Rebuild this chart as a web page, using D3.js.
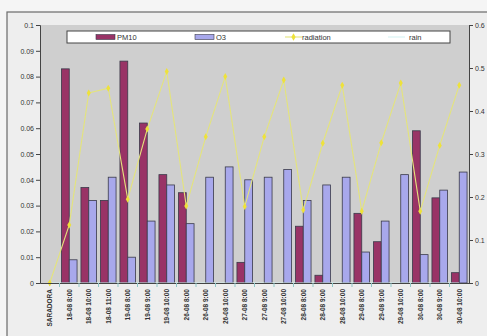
<!DOCTYPE html>
<html><head><meta charset="utf-8">
<script src="https://cdn.jsdelivr.net/npm/d3@7"></script>
<style>body{margin:0;background:#f4f4f4}svg{display:block}</style>
</head><body>
<script>
const categories = ["SARADORA","18-08 8:00","18-08 10:00","18-08 11:00","19-08 8:00","19-08 9:00","19-08 10:00","26-08 8:00","26-08 9:00","26-08 10:00","27-08 8:00","27-08 9:00","27-08 10:00","28-08 8:00","28-08 9:00","28-08 10:00","29-08 8:00","29-08 9:00","29-08 10:00","30-08 8:00","30-08 9:00","30-08 10:00"];
const pm10 = [0,0.083,0.037,0.032,0.086,0.062,0.042,0.035,0,0,0.008,0,0,0.022,0.003,0,0.027,0.016,0,0.059,0.033,0.004];
const o3 = [0,0.009,0.032,0.041,0.010,0.024,0.038,0.023,0.041,0.045,0.040,0.041,0.044,0.032,0.038,0.041,0.012,0.024,0.042,0.011,0.036,0.043];
const radiation = [0,0.135,0.442,0.453,0.195,0.358,0.492,0.179,0.34,0.48,0.178,0.34,0.472,0.17,0.325,0.46,0.167,0.326,0.465,0.167,0.32,0.46];
const rain = [0,0,0,0,0,0,0,0,0,0,0,0,0,0,0,0,0,0,0,0,0,0];
const leftTicks = [0,0.01,0.02,0.03,0.04,0.05,0.06,0.07,0.08,0.09,0.1];
const rightTicks = [0,0.1,0.2,0.3,0.4,0.5,0.6];
const seriesNames = ["PM10","O3","radiation","rain"];
const colors = {PM10:"#993366", O3:"#a8a8ec", radiation:"#e4e47c", rain:"#d6f2f2"};

const W=487,H=336;
const svg=d3.select("body").append("svg").attr("width",W).attr("height",H)
  .style("font-family","'Liberation Sans',Arial,sans-serif");
svg.append("rect").attr("width",W).attr("height",H).attr("fill","#f5f5f5");
svg.append("rect").attr("x",7).attr("y",12).attr("width",W).attr("height",H).attr("fill","#eeeeee").attr("stroke","#6a6a6a").attr("stroke-width",1.2);

const L=40,R=469,T=25,B=283;
svg.append("rect").attr("x",L).attr("y",T).attr("width",R-L).attr("height",B-T).attr("fill","#cfcfcf");

const x=d3.scaleBand().domain(categories).range([L,R]).padding(0);
const bw=x.bandwidth();
const xs=d3.scaleBand().domain(["PM10","O3"]).range([0.1*bw,0.9*bw]).padding(0);
const yL=d3.scaleLinear().domain([0,0.1]).range([B,T]);
const yR=d3.scaleLinear().domain([0,0.6]).range([B,T]);

// bars
const bars=[["PM10",pm10],["O3",o3]];
bars.forEach(([name,vals])=>{
  svg.append("g").selectAll("rect").data(vals).join("rect")
    .attr("x",(d,i)=>x(categories[i])+xs(name))
    .attr("width",xs.bandwidth())
    .attr("y",d=>yL(d))
    .attr("height",d=>B-yL(d))
    .attr("fill",colors[name])
    .attr("stroke",d=>d>0?"#3a3a4a":"none").attr("stroke-width",0.8);
});

// lines
const line=d3.line().x((d,i)=>x(categories[i])+bw/2).y(d=>yR(d));
svg.append("path").datum(rain).attr("d",line).attr("fill","none").attr("stroke",colors.rain).attr("stroke-width",1);
svg.append("path").datum(radiation).attr("d",line).attr("fill","none").attr("stroke",colors.radiation).attr("stroke-width",1.1);
svg.append("g").selectAll("path").data(radiation).join("path")
  .attr("d",d3.symbol().type(d3.symbolDiamond).size(14))
  .attr("transform",(d,i)=>`translate(${x(categories[i])+bw/2},${yR(d)})`)
  .attr("fill","#eee23a");

// left axis
const gl=svg.append("g").attr("transform",`translate(${L},0)`)
  .call(d3.axisLeft(yL).tickValues(leftTicks).tickSize(4).tickPadding(2).tickFormat(d=>d===0?"0":d3.format("")(+d.toFixed(2))));
gl.selectAll("text").attr("font-size",7).attr("fill","#333");
gl.selectAll("line,path").attr("stroke","#444");
// right axis
const gr=svg.append("g").attr("transform",`translate(${R},0)`)
  .call(d3.axisRight(yR).tickValues(rightTicks).tickSize(4).tickPadding(2).tickFormat(d=>d===0?"0":d3.format("")(+d.toFixed(1))));
gr.selectAll("text").attr("font-size",7).attr("fill","#333");
gr.selectAll("line,path").attr("stroke","#444");

// x axis
const gx=svg.append("g").attr("transform",`translate(0,${B})`)
  .call(d3.axisBottom(x).tickSize(0).tickFormat(d=>d));
gx.select(".domain").attr("stroke","#444");
gx.selectAll("text").attr("font-size",6.5).attr("font-weight","bold").attr("fill","#333")
  .attr("text-anchor","end").attr("transform","rotate(-90)").attr("x",-6).attr("y",0).attr("dy","0.35em");
svg.append("g").selectAll("line").data(categories.slice(1)).join("line")
  .attr("x1",d=>x(d)).attr("x2",d=>x(d)).attr("y1",B).attr("y2",B+4).attr("stroke","#8fc8c8");

// legend
const lg=svg.append("g");
lg.append("rect").attr("x",67).attr("y",31).attr("width",383).attr("height",12).attr("fill","#ffffff").attr("stroke","#444").attr("stroke-width",1);
const lx=[96,195,285,388];
seriesNames.forEach((n,i)=>{
  const g=lg.append("g").attr("transform",`translate(${lx[i]},37)`);
  if(i<2){
    g.append("rect").attr("x",0).attr("y",-2.5).attr("width",19).attr("height",5).attr("fill",colors[n]).attr("stroke","#3a3a4a").attr("stroke-width",0.6);
  } else {
    g.append("line").attr("x1",0).attr("x2",17).attr("stroke",colors[n]).attr("stroke-width",1.1);
    if(n==="radiation") g.append("path").attr("d",d3.symbol().type(d3.symbolDiamond).size(16)).attr("transform","translate(8.5,0)").attr("fill","#eee23a");
  }
  g.append("text").attr("x",i<2?21:(n==="radiation"?17:21)).attr("dy","0.35em").attr("font-size",7.5).attr("fill","#333").text(n);
});
</script>
</body></html>
